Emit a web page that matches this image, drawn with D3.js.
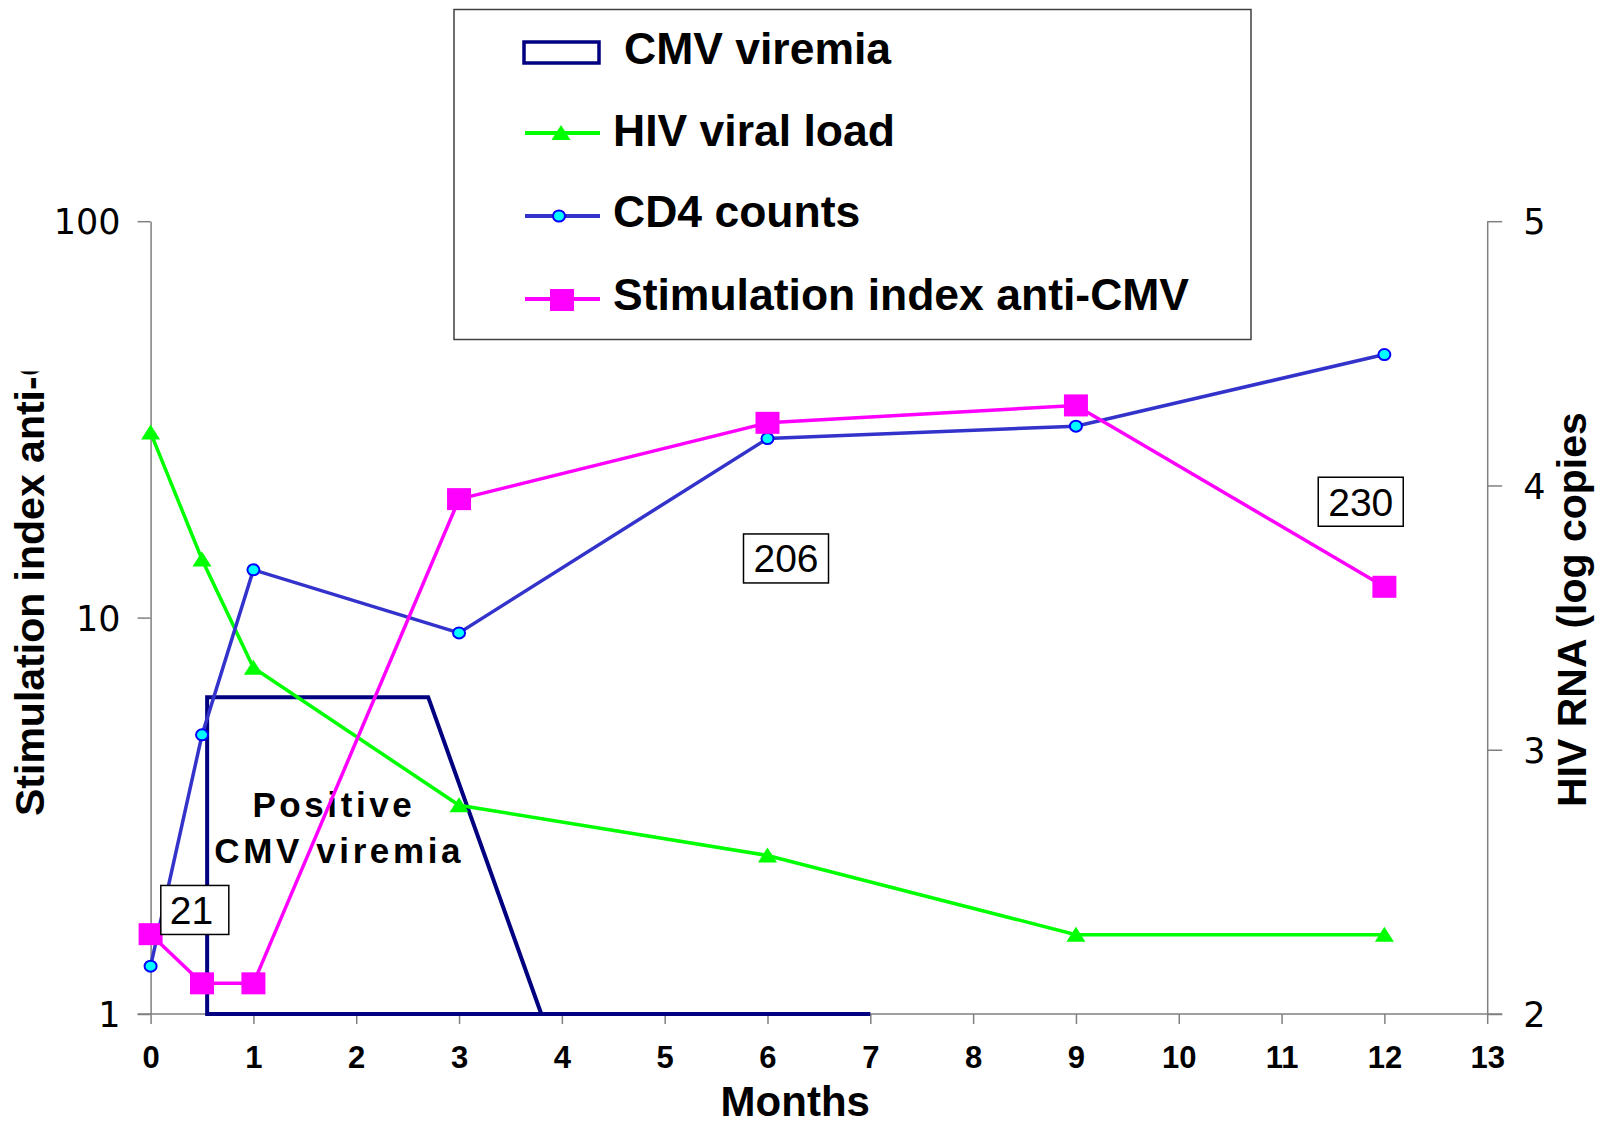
<!DOCTYPE html>
<html>
<head>
<meta charset="utf-8">
<script src="https://cdn.jsdelivr.net/npm/d3@7"></script>
<style>
  body { margin: 0; background: #fff; }
  svg { display: block; }
</style>
</head>
<body>
<script>
// ---------- data ----------
const months = [0, 0.5, 1, 3, 6, 9, 12];
const hivLoad = [4.20, 3.72, 3.31, 2.79, 2.60, 2.30, 2.30];        // log copies (right axis)
const cd4Counts = [1.32, 5.06, 13.2, 9.15, 28.3, 30.4, 46.1];      // plotted on left log axis
const stimIndex = [1.59, 1.195, 1.195, 19.9, 31.0, 34.3, 11.96];   // left log axis
const cmvMonths = [7, 3.8, 0.55, 0.55, 2.7, 3.8];
const cmvValues = [1, 1, 1, 6.3, 6.3, 1];
const xTicks = [0,1,2,3,4,5,6,7,8,9,10,11,12,13];
const leftTicks = [1, 10, 100];
const rightTicks = [2, 3, 4, 5];
const annotLabels = ["21", "206", "230"];
const annotMonths = [0.43, 6.18, 11.77];
const annotValues = [1.83, 14.1, 19.6];
const cmvTextLines = ["Positive", "CMV viremia"];
const cmvTextMonths = [0.99, 0.62];
const cmvTextValues = [3.14, 2.40];
const legendLabels = ["CMV viremia", "HIV viral load", "CD4 counts", "Stimulation index anti-CMV"];

// ---------- setup ----------
const W = 1606, H = 1125;
const svg = d3.select("body").append("svg").attr("width", W).attr("height", H);
const FONT = "'Liberation Sans', Arial, Helvetica, sans-serif";

const x = d3.scaleLinear().domain([0, 13]).range([150.6, 1487.2]);
const yL = d3.scaleLog().domain([1, 100]).range([1014, 221.2]);
const yR = d3.scaleLinear().domain([2, 5]).range([1014, 221.2]);

const AXIS = "#808080";
const NAVY = "#000080", GREEN = "#00FF00", BLUE = "#3333CC", MAG = "#FF00FF";

// ---------- axes ----------
const gL = svg.append("g").attr("transform", `translate(${x(0)},0)`)
  .call(d3.axisLeft(yL).tickValues(leftTicks).tickSize(13).tickSizeOuter(0).tickFormat(d3.format("d")));
const gR = svg.append("g").attr("transform", `translate(${x(13)},0)`)
  .call(d3.axisRight(yR).tickValues(rightTicks).tickSize(15).tickSizeOuter(0).tickFormat(d3.format("d")));
const gB = svg.append("g").attr("transform", `translate(0,${yL(1)})`)
  .call(d3.axisBottom(x).tickValues(xTicks).tickSize(10).tickSizeOuter(0).tickFormat(d3.format("d")));

[gL, gR, gB].forEach(g => {
  g.select(".domain").attr("stroke", AXIS).attr("stroke-width", 1.5);
  g.selectAll(".tick line").attr("stroke", AXIS).attr("stroke-width", 1.5);
  g.selectAll("text").attr("fill", "#000");
});
gB.select(".domain").remove();
svg.append("line")
  .attr("x1", x(0) - 13).attr("x2", x(13) + 15)
  .attr("y1", yL(1)).attr("y2", yL(1))
  .attr("stroke", AXIS).attr("stroke-width", 1.5);

gL.selectAll("text").attr("font-family", "'DejaVu Sans', sans-serif").attr("font-size", 35)
  .attr("x", -30).attr("dy", "0.36em");
gR.selectAll("text").attr("font-family", "'DejaVu Sans', sans-serif").attr("font-size", 35)
  .attr("x", 36).attr("dy", "0.36em").attr("text-anchor", "start");
gB.selectAll("text").attr("font-family", FONT).attr("font-size", 31).attr("font-weight", "bold")
  .attr("y", 54).attr("dy", null);

// axis titles
svg.append("text").attr("x", x(6.27)).attr("y", 1116)
  .attr("text-anchor", "middle").attr("font-family", FONT).attr("font-weight", "bold")
  .attr("font-size", 42).text("Months");

svg.append("clipPath").attr("id", "clipL")
  .append("rect").attr("x", 0).attr("y", 371.5).attr("width", 100).attr("height", 700);
svg.append("g").attr("clip-path", "url(#clipL)")
  .append("text")
  .attr("transform", "translate(44,816) rotate(-90)")
  .attr("font-family", FONT).attr("font-weight", "bold").attr("font-size", 41)
  .text("Stimulation index anti-CMV");

svg.append("text")
  .attr("transform", "translate(1586,807) rotate(-90)")
  .attr("font-family", FONT).attr("font-weight", "bold").attr("font-size", 41)
  .text("HIV RNA (log copies");

// ---------- CMV viremia outline ----------
const cmvData = cmvMonths.map((m, i) => [m, cmvValues[i]]);
svg.append("path")
  .attr("d", d3.line().x(d => x(d[0])).y(d => yL(d[1]))(cmvData))
  .attr("fill", "none").attr("stroke", NAVY).attr("stroke-width", 4)
  .attr("stroke-linejoin", "miter");

cmvTextLines.forEach((t, i) => {
  svg.append("text").attr("x", x(cmvTextMonths[i])).attr("y", yL(cmvTextValues[i]))
    .attr("font-family", FONT).attr("font-weight", "bold")
    .attr("font-size", 35).attr("letter-spacing", 3.6).text(t);
});

// ---------- marker helpers ----------
function triangle(g, cx, cy) {
  g.append("path").attr("d", `M${cx},${cy - 8}L${cx + 9.5},${cy + 7}L${cx - 9.5},${cy + 7}Z`)
    .attr("fill", GREEN);
}
function circle(g, cx, cy) {
  g.append("ellipse").attr("cx", cx).attr("cy", cy).attr("rx", 6).attr("ry", 5.5)
    .attr("fill", "#00FFFF").attr("stroke", "#0000FF").attr("stroke-width", 2);
}
function square(g, cx, cy) {
  g.append("rect").attr("x", cx - 12).attr("y", cy - 11).attr("width", 24).attr("height", 22)
    .attr("fill", MAG);
}

// ---------- HIV viral load ----------
const hivData = months.map((m, i) => [m, hivLoad[i]]);
svg.append("path")
  .attr("d", d3.line().x(d => x(d[0])).y(d => yR(d[1]))(hivData))
  .attr("fill", "none").attr("stroke", GREEN).attr("stroke-width", 3.5);
const gHiv = svg.append("g");
hivData.forEach(d => triangle(gHiv, x(d[0]), yR(d[1])));

// ---------- CD4 counts ----------
const cd4Data = months.map((m, i) => [m, cd4Counts[i]]);
svg.append("path")
  .attr("d", d3.line().x(d => x(d[0])).y(d => yL(d[1]))(cd4Data))
  .attr("fill", "none").attr("stroke", BLUE).attr("stroke-width", 3.5);
const gCd4 = svg.append("g");
cd4Data.forEach(d => circle(gCd4, x(d[0]), yL(d[1])));

// ---------- Stimulation index ----------
const stimData = months.map((m, i) => [m, stimIndex[i]]);
svg.append("path")
  .attr("d", d3.line().x(d => x(d[0])).y(d => yL(d[1]))(stimData))
  .attr("fill", "none").attr("stroke", MAG).attr("stroke-width", 3.5);
const gStim = svg.append("g");
stimData.forEach(d => square(gStim, x(d[0]), yL(d[1])));

// ---------- annotation boxes ----------
annotLabels.forEach((lab, i) => {
  const cx = x(annotMonths[i]), cy = yL(annotValues[i]);
  const w = lab.length === 2 ? 68 : 85, h = 49;
  svg.append("rect").attr("x", cx - w / 2).attr("y", cy - h / 2).attr("width", w).attr("height", h)
    .attr("fill", "#fff").attr("stroke", "#000").attr("stroke-width", 1.5);
  svg.append("text").attr("x", lab.length === 2 ? cx - w / 2 + 9 : cx)
    .attr("y", cy + 14)
    .attr("text-anchor", lab.length === 2 ? "start" : "middle")
    .attr("font-family", FONT).attr("font-size", 39).text(lab);
});

// ---------- legend ----------
const leg = svg.append("g");
leg.append("rect").attr("x", 454).attr("y", 9.5).attr("width", 797).attr("height", 330)
  .attr("fill", "#fff").attr("stroke", "#404040").attr("stroke-width", 1.5);
// CMV
leg.append("rect").attr("x", 524).attr("y", 42).attr("width", 75).attr("height", 21)
  .attr("fill", "#fff").attr("stroke", NAVY).attr("stroke-width", 3.5);
// HIV
leg.append("line").attr("x1", 525).attr("x2", 600).attr("y1", 133).attr("y2", 133)
  .attr("stroke", GREEN).attr("stroke-width", 4);
triangle(leg, 561, 133);
// CD4
leg.append("line").attr("x1", 525).attr("x2", 600).attr("y1", 216).attr("y2", 216)
  .attr("stroke", BLUE).attr("stroke-width", 4);
circle(leg, 559, 216);
// Stim
leg.append("line").attr("x1", 525).attr("x2", 600).attr("y1", 299).attr("y2", 299)
  .attr("stroke", MAG).attr("stroke-width", 4);
square(leg, 562, 300);

const legX = [624, 613, 613, 613];
const legY = [64, 146, 227, 310];
legendLabels.forEach((t, i) => {
  leg.append("text").attr("x", legX[i]).attr("y", legY[i])
    .attr("font-family", FONT).attr("font-weight", "bold").attr("font-size", 44.5).text(t);
});
</script>
</body>
</html>
